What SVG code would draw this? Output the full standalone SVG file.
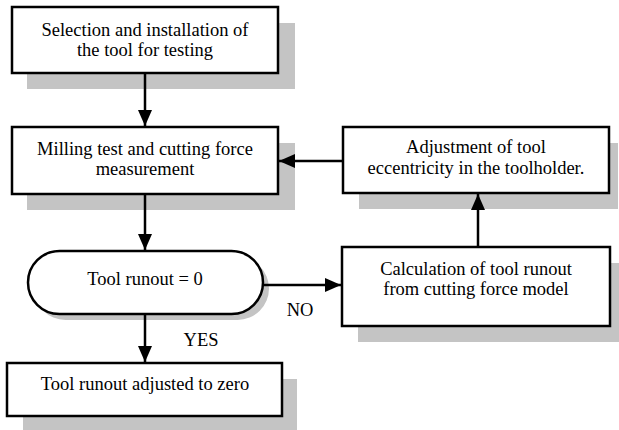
<svg xmlns="http://www.w3.org/2000/svg" width="619" height="430" viewBox="0 0 619 430">
<style>
.box{fill:#fff;stroke:#000;stroke-width:2.5}
.sh{fill:#c4c4c4}
.t{font-size:18.5px;fill:#000;text-anchor:middle}
.c{stroke:#000;stroke-width:2.5;fill:none}
</style>
<defs>
<marker id="a" viewBox="0 0 16 16" refX="16" refY="8" markerWidth="16" markerHeight="16" orient="auto" markerUnits="userSpaceOnUse">
<path d="M0,1 L16,8 L0,15 Z" fill="#000"/>
</marker>
</defs>
<g font-family="'Liberation Serif', 'DejaVu Serif', serif">
<g id="n1">
<rect class="sh" x="27" y="23" width="268" height="66"/>
<rect class="box" x="12" y="7" width="266" height="66"/>
<text class="t" x="145" y="35.5">Selection and installation of</text>
<text class="t" x="145" y="55.5">the tool for testing</text>
</g>
<g id="n2">
<rect class="sh" x="27" y="143" width="268" height="67"/>
<rect class="box" x="12" y="127" width="266" height="67"/>
<text class="t" x="145" y="155">Milling test and cutting force</text>
<text class="t" x="145" y="175">measurement</text>
</g>
<g id="n3">
<rect class="sh" x="34" y="257" width="235" height="63" rx="31.5"/>
<rect class="box" x="28" y="251" width="235" height="63" rx="31.5"/>
<text class="t" x="145" y="285">Tool runout = 0</text>
</g>
<g id="n4">
<rect class="sh" x="23" y="379" width="274" height="51"/>
<rect class="box" x="7" y="363" width="275" height="53"/>
<text class="t" x="145" y="390">Tool runout adjusted to zero</text>
</g>
<g id="n5">
<rect class="sh" x="359" y="143" width="259" height="66"/>
<rect class="box" x="343" y="127" width="266" height="66"/>
<text class="t" x="476" y="153">Adjustment of tool</text>
<text class="t" x="476" y="174">eccentricity in the toolholder.</text>
</g>
<g id="n6">
<rect class="sh" x="358" y="263" width="261" height="79"/>
<rect class="box" x="342" y="247" width="268" height="79"/>
<text class="t" x="476" y="275">Calculation of tool runout</text>
<text class="t" x="476" y="295">from cutting force model</text>
</g>
<g id="connectors">
<line class="c" x1="145" y1="73" x2="145" y2="126" marker-end="url(#a)"/>
<line class="c" x1="145" y1="194" x2="145" y2="250" marker-end="url(#a)"/>
<line class="c" x1="145" y1="314" x2="145" y2="362" marker-end="url(#a)"/>
<line class="c" x1="263" y1="285" x2="341" y2="285" marker-end="url(#a)"/>
<line class="c" x1="478" y1="247" x2="478" y2="194" marker-end="url(#a)"/>
<line class="c" x1="343" y1="161" x2="279" y2="161" marker-end="url(#a)"/>
<text class="t" x="201" y="346">YES</text>
<text class="t" x="300" y="316">NO</text>
</g>
</g>
</svg>
